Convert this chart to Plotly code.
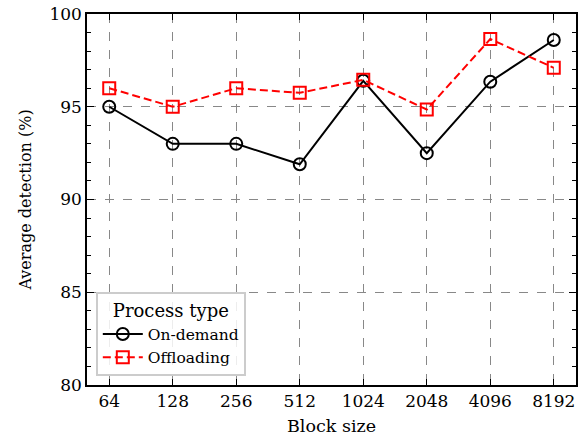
import plotly.graph_objects as go

block_sizes = ["64", "128", "256", "512", "1024", "2048", "4096", "8192"]
on_demand = [95.0, 93.0, 93.0, 91.9, 96.4, 92.5, 96.35, 98.6]
offloading = [96.0, 95.0, 96.0, 95.75, 96.45, 94.85, 98.65, 97.1]
y_ticks = [80, 85, 90, 95, 100]

FONT = "DejaVu Serif"

fig = go.Figure()
fig.add_trace(go.Scatter(
    x=block_sizes, y=on_demand, name="On-demand", mode="lines+markers",
    line=dict(color="black", width=2),
    marker=dict(symbol="circle-open", size=12, color="black", line=dict(width=2, color="black")),
))
fig.add_trace(go.Scatter(
    x=block_sizes, y=offloading, name="Offloading", mode="lines+markers",
    line=dict(color="#ff0000", width=2, dash="8px,4px"),
    marker=dict(symbol="square-open", size=12, color="#ff0000", line=dict(width=2, color="#ff0000")),
))

fig.update_layout(
    width=582, height=444,
    margin=dict(l=87, r=4, t=14, b=59),
    paper_bgcolor="white", plot_bgcolor="white",
    font=dict(family=FONT, size=17, color="black"),
    showlegend=True,
    legend=dict(
        title=dict(text="Process type", font=dict(family=FONT, size=18), side="top center"),
        font=dict(family=FONT, size=15.5),
        x=0.018, y=0.024, xanchor="left", yanchor="bottom",
        bgcolor="rgba(255,255,255,0.85)", bordercolor="#cccccc", borderwidth=2,
        itemwidth=40, tracegroupgap=0,
    ),
)
fig.update_xaxes(
    type="category", categoryorder="array", categoryarray=block_sizes,
    range=[-0.35, 7.35],
    title=dict(text="Block size", font=dict(family=FONT, size=17.5), standoff=10),
    showline=True, linecolor="black", linewidth=1.5, mirror="allticks",
    ticks="inside", ticklen=6, tickwidth=1, tickcolor="black",
    showgrid=True, gridcolor="#888888", gridwidth=1, griddash="dash",
    zeroline=False, tickfont=dict(family=FONT, size=17),
)
fig.update_yaxes(
    range=[80, 100], tickvals=y_ticks,
    title=dict(text="Average detection (%)", font=dict(family=FONT, size=16), standoff=14),
    showline=True, linecolor="black", linewidth=1.5, mirror="allticks",
    ticks="inside", ticklen=7, tickwidth=1, tickcolor="black",
    minor=dict(ticks="inside", ticklen=4, dtick=1, tickcolor="black", tickwidth=1, showgrid=False),
    showgrid=True, gridcolor="#888888", gridwidth=1, griddash="dash",
    zeroline=False, tickfont=dict(family=FONT, size=17),
)

fig.write_html("out.html")
